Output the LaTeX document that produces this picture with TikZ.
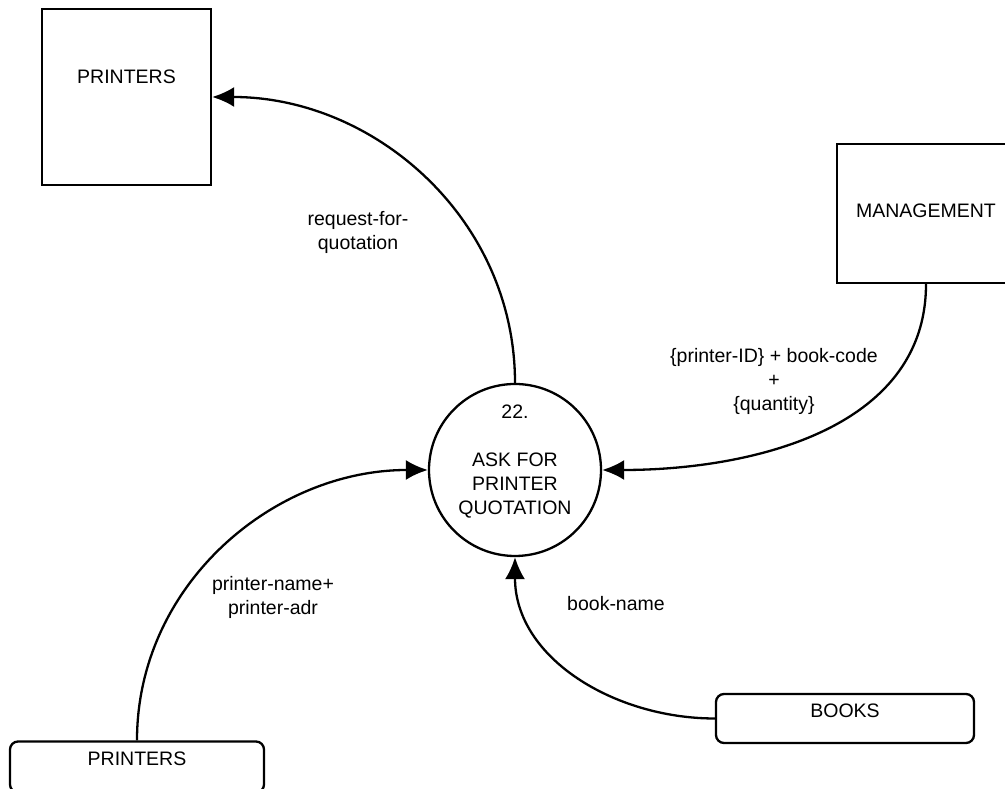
\documentclass[tikz,border=0pt]{standalone}
\usepackage{fontspec}
\setmainfont{Liberation Sans}
\usetikzlibrary{arrows.meta}
\begin{document}
\begin{tikzpicture}[x=1pt, y=1pt, line width=2.3pt,
    every node/.style={font=\fontsize{19.5}{24}\selectfont},
    entity/.style={draw, inner sep=0pt},
    store/.style={draw, rounded corners=8pt, inner sep=0pt, text height=24pt, text depth=25pt},
    flow/.style={-{Latex[length=22pt, width=20pt]}}]
    \useasboundingbox (0,0) rectangle (1005,789);

    \node (printersA) [entity, minimum width=169pt, text height=75pt, text depth=101pt] at (126.5,692)
    {PRINTERS};
    \node (mgmt) [entity, minimum width=178pt, text height=74pt, text depth=65pt] at (926,575.5)
    {MANAGEMENT};
    \node (proc) [circle, draw, minimum size=172pt, inner sep=0pt, align=center] at (515,319)
    {22.\\[24pt]ASK FOR\\PRINTER\\QUOTATION\\[-4pt]\mbox{}};
    \node (printersB) [store, minimum width=254pt, text depth=27pt] at (137,22)
    {PRINTERS};
    \node (books) [store, minimum width=258pt] at (845,70.5)
    {BOOKS};

    \draw [flow] (proc.north) to [out=90, in=0] (printersA.east);
    \draw [flow] (mgmt.south) to [out=-90, in=0] (proc.east);
    \draw [flow] (printersB.north) to [out=90, in=180] (proc.west);
    \draw [flow] (books.west) to [out=180, in=-90] (proc.south);

    \node (reqlabel) [align=center] at (358,557) {request-for-\\quotation};
    \node (mgmtlabel) [align=center] at (774,408) {\{printer-ID\} + book-code\\+\\\{quantity\}};
    \node (prnlabel) [align=center] at (273,192) {printer-name+\\printer-adr};
    \node (booklabel) at (616,185) {book-name};
\end{tikzpicture}
\end{document}
